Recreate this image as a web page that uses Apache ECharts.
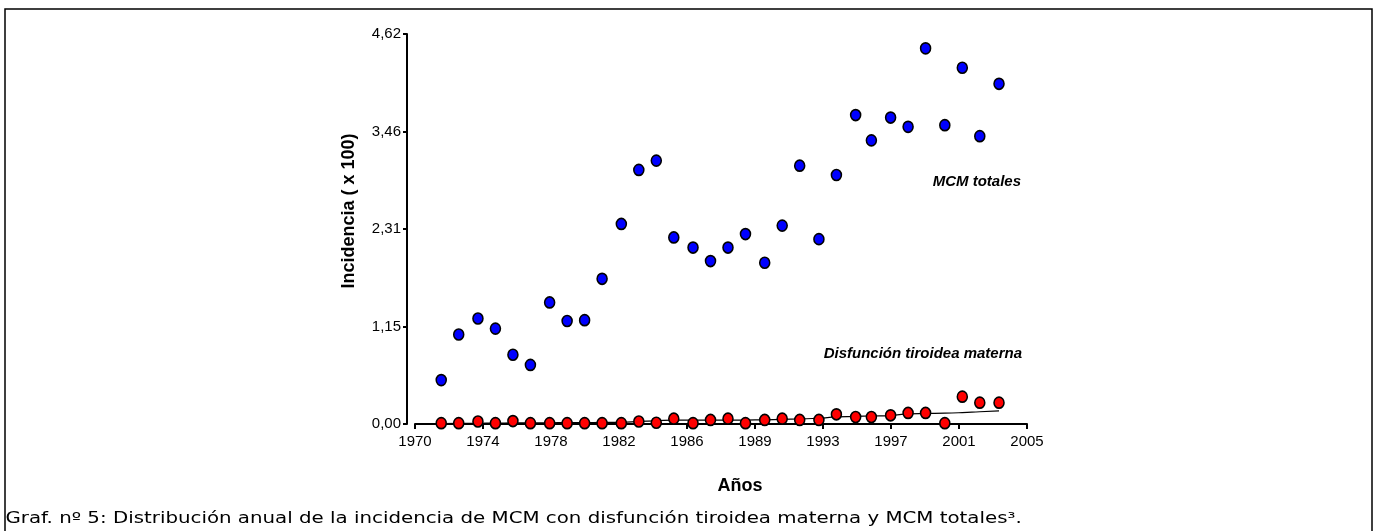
<!DOCTYPE html>
<html>
<head>
<meta charset="utf-8">
<script src="https://cdn.jsdelivr.net/npm/echarts@6/dist/echarts.min.js"></script>
<style>
html,body{margin:0;padding:0;background:#fff;}
#chart{width:1375px;height:531px;}
</style>
</head>
<body>
<div id="chart"></div>
<script>
// Years (x position of each yearly point)
const anios = [1971.5,1972.5,1973.6,1974.6,1975.6,1976.6,1977.7,1978.7,1979.7,1980.7,
  1981.8,1982.8,1983.8,1984.8,1985.9,1986.9,1987.9,1988.9,1990.0,1991.0,
  1992.0,1993.1,1994.1,1995.2,1996.1,1997.2,1998.2,1999.2,2000.3,2001.3,2002.3,2003.4];
// MCM totales (incidencia x 100)
const mcmTotales = [0.52,1.06,1.25,1.13,0.82,0.70,1.44,1.22,1.23,1.72,
  2.37,3.01,3.12,2.21,2.09,1.93,2.09,2.25,1.91,2.35,
  3.06,2.19,2.95,3.66,3.36,3.63,3.52,4.45,3.54,4.22,3.41,4.03];
// Disfunción tiroidea materna
const disfuncion = [0.01,0.01,0.03,0.01,0.035,0.01,0.01,0.01,0.01,0.01,
  0.01,0.03,0.015,0.063,0.01,0.048,0.063,0.01,0.048,0.063,
  0.048,0.048,0.115,0.083,0.083,0.103,0.131,0.131,0.01,0.324,0.253,0.253];
// Trend line for Disfunción tiroidea materna
const tendencia = [0.005,0.007,0.009,0.011,0.013,0.014,0.015,0.016,0.017,0.019,
  0.022,0.030,0.038,0.045,0.045,0.045,0.046,0.047,0.050,0.055,
  0.060,0.068,0.085,0.090,0.095,0.100,0.120,0.125,0.128,0.135,0.145,0.155];
// Tick labels
const xTickLabels = ['1970','1974','1978','1982','1986','1989','1993','1997','2001','2005'];
const yTickLabels = ['0,00','1,15','2,31','3,46','4,62'];

const xMin = 1970, xMax = 2005, xStep = (xMax - xMin) / 9;
const yMax = 4.62, yStep = yMax / 4;
const tickFont = '"Liberation Sans Narrow", "Liberation Sans", Arial, sans-serif';

const chart = echarts.init(document.getElementById('chart'), null, {renderer:'canvas'});
const zip = (xs, ys) => xs.map((x, i) => [x, ys[i]]);

chart.setOption({
  backgroundColor: '#ffffff',
  animation: false,
  grid: {left: 415, right: 348, top: 34, bottom: 107},
  xAxis: {
    type: 'value', min: xMin, max: xMax, interval: xStep,
    splitLine: {show: false},
    axisLine: {lineStyle: {color: '#000', width: 2}},
    axisTick: {length: 5, lineStyle: {color: '#000', width: 2}},
    axisLabel: {
      color: '#000', fontFamily: tickFont, fontSize: 15, margin: 10,
      showMinLabel: true, showMaxLabel: true,
      formatter: v => xTickLabels[Math.round((v - xMin) / xStep)]
    }
  },
  yAxis: {
    type: 'value', min: 0, max: yMax, interval: yStep, offset: 8,
    splitLine: {show: false},
    axisLine: {show: true, lineStyle: {color: '#000', width: 2}},
    axisTick: {show: true, length: 4, lineStyle: {color: '#000', width: 2}},
    axisLabel: {
      color: '#000', fontFamily: tickFont, fontSize: 15, margin: 6,
      showMinLabel: true, showMaxLabel: true,
      formatter: v => yTickLabels[Math.round(v / yStep)]
    }
  },
  series: [
    {
      name: 'MCM totales', type: 'scatter', data: zip(anios, mcmTotales),
      symbol: 'circle', symbolSize: [10, 11], z: 3,
      itemStyle: {color: '#0000ff', borderColor: '#000', borderWidth: 1.6, opacity: 1}
    },
    {
      name: 'Tendencia', type: 'line', data: zip(anios, tendencia),
      smooth: true, showSymbol: false, z: 2,
      lineStyle: {color: '#000', width: 1.2}
    },
    {
      name: 'Disfunción tiroidea materna', type: 'scatter', data: zip(anios, disfuncion),
      symbol: 'circle', symbolSize: [10, 11], z: 4,
      itemStyle: {color: '#ff0000', borderColor: '#000', borderWidth: 1.6, opacity: 1}
    }
  ],
  graphic: [
    {type: 'rect', shape: {x: 5, y: 9, width: 1367, height: 540}, z: 0,
     style: {fill: 'none', stroke: '#000', lineWidth: 1.5}},
    {type: 'text', x: 349, y: 211, rotation: Math.PI / 2, z: 10,
     style: {text: 'Incidencia ( x 100)', font: 'bold 18px "Liberation Sans", Arial, sans-serif',
       fill: '#000', align: 'center', verticalAlign: 'middle'}},
    {type: 'text', x: 740, y: 486, z: 10,
     style: {text: 'Años', font: 'bold 18px "Liberation Sans", Arial, sans-serif',
       fill: '#000', align: 'center', verticalAlign: 'middle'}},
    {type: 'text', x: 1021, y: 182, z: 10,
     style: {text: 'MCM totales', font: 'italic bold 15px "Liberation Sans", Arial, sans-serif',
       fill: '#000', align: 'right', verticalAlign: 'middle'}},
    {type: 'text', x: 1022, y: 354, z: 10,
     style: {text: 'Disfunción tiroidea materna', font: 'italic bold 15px "Liberation Sans", Arial, sans-serif',
       fill: '#000', align: 'right', verticalAlign: 'middle'}},
    {type: 'text', x: 8, y: 519, z: 10, scaleX: 1.32, originX: 8, originY: 519,
     style: {text: 'Graf. nº 5: Distribución anual de la incidencia de MCM con disfunción tiroidea materna y MCM totales³.',
       font: '15px "DejaVu Sans", Verdana, sans-serif', fill: '#000', align: 'left', verticalAlign: 'middle'}}
  ]
});
</script>
</body>
</html>
